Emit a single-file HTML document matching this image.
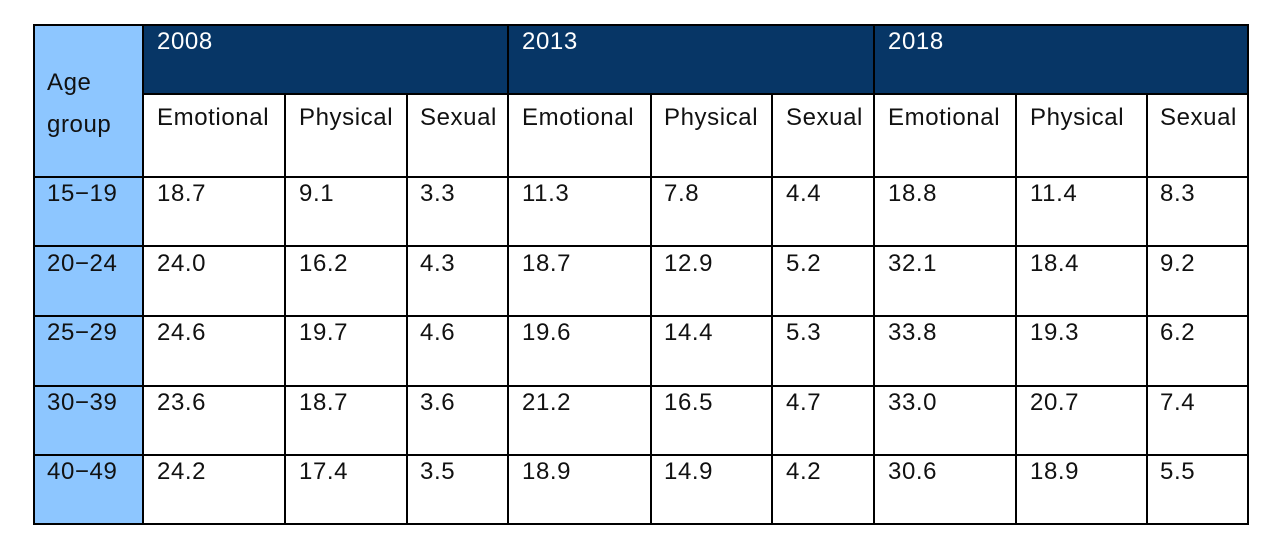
<!DOCTYPE html>
<html><head><meta charset="utf-8"><style>
body{margin:0;width:1262px;height:536px;background:#fff;position:relative;overflow:hidden;font-family:"Liberation Sans",Arial,sans-serif;font-size:24px;letter-spacing:0.6px;color:#111}
div{position:absolute}
.h{background:#000;height:2px}
.v{background:#000;width:2px}
.t{line-height:24px;white-space:nowrap}
.w{color:#fff}
</style></head><body>
<div style="left:34px;top:25px;width:109px;height:499px;background:#8DC6FF"></div>
<div style="left:143px;top:25px;width:1105px;height:69px;background:#073666"></div>
<div class="h" style="left:33px;top:24px;width:1216px"></div>
<div class="h" style="left:143px;top:93px;width:1106px"></div>
<div class="h" style="left:33px;top:176px;width:1216px"></div>
<div class="h" style="left:33px;top:245px;width:1216px"></div>
<div class="h" style="left:33px;top:315px;width:1216px"></div>
<div class="h" style="left:33px;top:385px;width:1216px"></div>
<div class="h" style="left:33px;top:454px;width:1216px"></div>
<div class="h" style="left:33px;top:523px;width:1216px"></div>
<div class="v" style="left:33px;top:24px;height:501px"></div>
<div class="v" style="left:142px;top:24px;height:501px"></div>
<div class="v" style="left:284px;top:94px;height:431px"></div>
<div class="v" style="left:406px;top:94px;height:431px"></div>
<div class="v" style="left:507px;top:24px;height:501px"></div>
<div class="v" style="left:650px;top:94px;height:431px"></div>
<div class="v" style="left:771px;top:94px;height:431px"></div>
<div class="v" style="left:873px;top:24px;height:501px"></div>
<div class="v" style="left:1015px;top:94px;height:431px"></div>
<div class="v" style="left:1146px;top:94px;height:431px"></div>
<div class="v" style="left:1247px;top:24px;height:501px"></div>
<div class="t" style="left:47px;top:71px">Age</div>
<div class="t" style="left:47px;top:113px">group</div>
<div class="t w" style="left:157px;top:30px">2008</div>
<div class="t w" style="left:522px;top:30px">2013</div>
<div class="t w" style="left:888px;top:30px">2018</div>
<div class="t" style="left:157px;top:106px">Emotional</div>
<div class="t" style="left:299px;top:106px">Physical</div>
<div class="t" style="left:420px;top:106px">Sexual</div>
<div class="t" style="left:522px;top:106px">Emotional</div>
<div class="t" style="left:664px;top:106px">Physical</div>
<div class="t" style="left:786px;top:106px">Sexual</div>
<div class="t" style="left:888px;top:106px">Emotional</div>
<div class="t" style="left:1030px;top:106px">Physical</div>
<div class="t" style="left:1160px;top:106px">Sexual</div>
<div class="t" style="left:47px;top:182px">15−19</div>
<div class="t" style="left:157px;top:182px">18.7</div><div class="t" style="left:299px;top:182px">9.1</div><div class="t" style="left:420px;top:182px">3.3</div>
<div class="t" style="left:522px;top:182px">11.3</div><div class="t" style="left:664px;top:182px">7.8</div><div class="t" style="left:786px;top:182px">4.4</div>
<div class="t" style="left:888px;top:182px">18.8</div><div class="t" style="left:1030px;top:182px">11.4</div><div class="t" style="left:1160px;top:182px">8.3</div>
<div class="t" style="left:47px;top:252px">20−24</div>
<div class="t" style="left:157px;top:252px">24.0</div><div class="t" style="left:299px;top:252px">16.2</div><div class="t" style="left:420px;top:252px">4.3</div>
<div class="t" style="left:522px;top:252px">18.7</div><div class="t" style="left:664px;top:252px">12.9</div><div class="t" style="left:786px;top:252px">5.2</div>
<div class="t" style="left:888px;top:252px">32.1</div><div class="t" style="left:1030px;top:252px">18.4</div><div class="t" style="left:1160px;top:252px">9.2</div>
<div class="t" style="left:47px;top:321px">25−29</div>
<div class="t" style="left:157px;top:321px">24.6</div><div class="t" style="left:299px;top:321px">19.7</div><div class="t" style="left:420px;top:321px">4.6</div>
<div class="t" style="left:522px;top:321px">19.6</div><div class="t" style="left:664px;top:321px">14.4</div><div class="t" style="left:786px;top:321px">5.3</div>
<div class="t" style="left:888px;top:321px">33.8</div><div class="t" style="left:1030px;top:321px">19.3</div><div class="t" style="left:1160px;top:321px">6.2</div>
<div class="t" style="left:47px;top:391px">30−39</div>
<div class="t" style="left:157px;top:391px">23.6</div><div class="t" style="left:299px;top:391px">18.7</div><div class="t" style="left:420px;top:391px">3.6</div>
<div class="t" style="left:522px;top:391px">21.2</div><div class="t" style="left:664px;top:391px">16.5</div><div class="t" style="left:786px;top:391px">4.7</div>
<div class="t" style="left:888px;top:391px">33.0</div><div class="t" style="left:1030px;top:391px">20.7</div><div class="t" style="left:1160px;top:391px">7.4</div>
<div class="t" style="left:47px;top:460px">40−49</div>
<div class="t" style="left:157px;top:460px">24.2</div><div class="t" style="left:299px;top:460px">17.4</div><div class="t" style="left:420px;top:460px">3.5</div>
<div class="t" style="left:522px;top:460px">18.9</div><div class="t" style="left:664px;top:460px">14.9</div><div class="t" style="left:786px;top:460px">4.2</div>
<div class="t" style="left:888px;top:460px">30.6</div><div class="t" style="left:1030px;top:460px">18.9</div><div class="t" style="left:1160px;top:460px">5.5</div>
</body></html>
